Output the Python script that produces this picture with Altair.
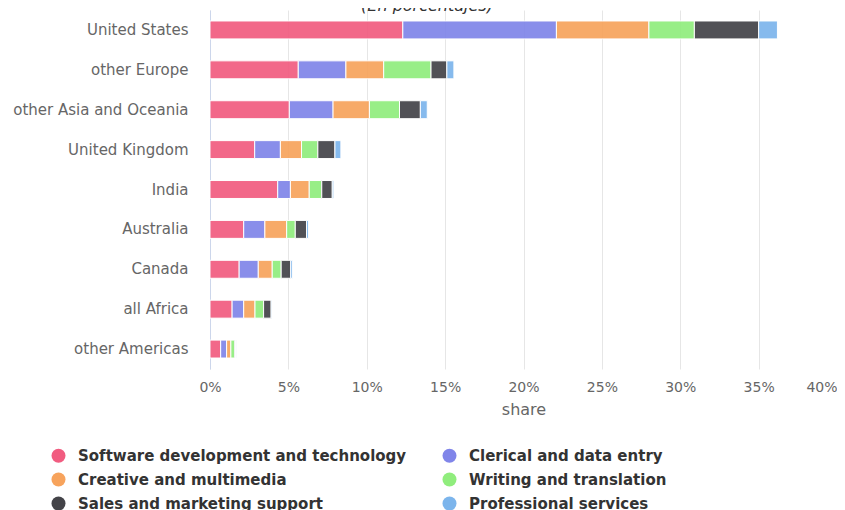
import altair as alt
import pandas as pd

countries = ["United States", "other Europe", "other Asia and Oceania", "United Kingdom",
             "India", "Australia", "Canada", "all Africa", "other Americas"]
categories = ["Software development and technology", "Clerical and data entry",
              "Creative and multimedia", "Writing and translation",
              "Sales and marketing support", "Professional services"]
software = [12.3, 5.63, 5.06, 2.85, 4.32, 2.15, 1.86, 1.41, 0.68]
clerical = [9.8, 3.04, 2.79, 1.64, 0.81, 1.35, 1.22, 0.74, 0.38]
creative = [5.9, 2.41, 2.32, 1.35, 1.20, 1.39, 0.89, 0.72, 0.27]
writing = [2.9, 3.02, 1.92, 1.04, 0.80, 0.55, 0.57, 0.55, 0.25]
sales = [4.1, 1.01, 1.33, 1.09, 0.67, 0.72, 0.61, 0.48, 0.05]
professional = [1.2, 0.45, 0.44, 0.38, 0.10, 0.13, 0.12, 0.05, 0.05]
colors = ["#f15c80", "#8085e9", "#f7a35c", "#90ed7d", "#434348", "#7cb5ec"]
tick_values = [0, 5, 10, 15, 20, 25, 30, 35, 40]
subtitle = ["(En porcentajes)"]

series = [software, clerical, creative, writing, sales, professional]
rows = []
for ci, (cat, vals) in enumerate(zip(categories, series)):
    for country, v in zip(countries, vals):
        rows.append({"country": country, "category": cat, "share": v, "idx": ci})
df = pd.DataFrame(rows)

bars = alt.Chart(df).mark_bar(stroke="white", strokeWidth=1, opacity=0.92).encode(
    y=alt.Y("country:N", sort=countries,
            scale=alt.Scale(paddingInner=0.55, paddingOuter=0.275),
            axis=alt.Axis(title=None, ticks=False, grid=False, domainColor="#ccd6eb",
                          labelColor="#666666", labelFont="DejaVu Sans", labelFontSize=15,
                          labelPadding=22, labelLimit=300)),
    x=alt.X("share:Q", stack="zero", scale=alt.Scale(domain=[0, 40], nice=False),
            axis=alt.Axis(title="share", values=tick_values, labelExpr="datum.value + '%'",
                          domain=False, ticks=False, gridColor="#e6e6e6",
                          labelColor="#666666", labelFont="DejaVu Sans", labelFontSize=14,
                          labelPadding=11,
                          labelAlign={"condition": {"test": "datum.value == 40", "value": "right"},
                                      "value": "center"},
                          titleColor="#666666", titleFont="DejaVu Sans", titleFontSize=16,
                          titleFontWeight="normal", titlePadding=7)),
    color=alt.Color("category:N", scale=alt.Scale(domain=categories, range=colors),
                    legend=alt.Legend(title=None, orient="none", legendX=-159, legendY=438,
                                      direction="horizontal", columns=2,
                                      symbolType="circle", symbolSize=196,
                                      symbolStrokeWidth=0, symbolOpacity=1,
                                      labelFont="DejaVu Sans", labelFontWeight="bold",
                                      labelFontSize=15, labelColor="#333333",
                                      labelOffset=12, labelLimit=400,
                                      rowPadding=8, columnPadding=35)),
    order=alt.Order("idx:Q"),
)

title_text = alt.Chart(pd.DataFrame({"t": subtitle})).mark_text(
    font="DejaVu Sans", fontSize=16, fontStyle="italic", color="#333333",
    align="center", baseline="alphabetic"
).encode(text="t:N", x=alt.value(217), y=alt.value(1))

chart = alt.layer(bars, title_text).properties(
    width=627, height=359,
    autosize=alt.AutoSizeParams(type="none"),
    padding={"left": 202, "top": 2, "right": 0, "bottom": 141},
).configure_view(stroke=None)

chart.save("out.html", embed_options={"renderer": "svg", "actions": False})
